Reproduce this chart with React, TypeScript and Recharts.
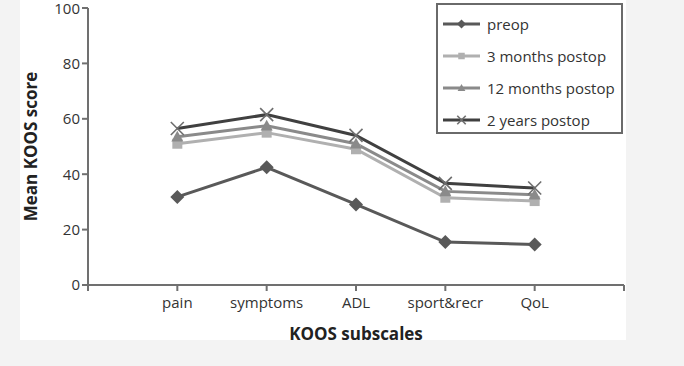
import React from "react";
import { LineChart, Line, XAxis, YAxis } from "recharts";

// KOOS subscales; blank slots at both ends keep the points off the axis edges
const categories = ["", "pain", "symptoms", "ADL", "sport&recr", "QoL", ""];
const preop = [null, 31.8, 42.5, 29.1, 15.5, 14.6, null];
const months3 = [null, 51, 55, 49, 31.5, 30.3, null];
const months12 = [null, 53.5, 57.5, 51, 33.8, 32.6, null];
const years2 = [null, 56.5, 61.5, 54, 36.7, 35, null];
const yTicks = [0, 20, 40, 60, 80, 100];

const data = categories.map((name, i) => ({
  name,
  preop: preop[i],
  m3: months3[i],
  m12: months12[i],
  y2: years2[i],
}));

const FONT = "'Open Sans', sans-serif";
const TEXT = "#333333";

type Shape = "diamond" | "square" | "triangle" | "cross";

const series: { key: string; name: string; color: string; markerColor: string; shape: Shape }[] = [
  { key: "preop", name: "preop", color: "#595959", markerColor: "#595959", shape: "diamond" },
  { key: "m3", name: "3 months postop", color: "#b0b0b0", markerColor: "#b0b0b0", shape: "square" },
  { key: "m12", name: "12 months postop", color: "#8a8a8a", markerColor: "#8a8a8a", shape: "triangle" },
  { key: "y2", name: "2 years postop", color: "#404040", markerColor: "#6e6e6e", shape: "cross" },
];

const marker = (shape: Shape, cx: number, cy: number, color: string, s = 1) => {
  if (shape === "diamond") {
    const r = 7 * s;
    return <polygon points={`${cx},${cy - r} ${cx + r},${cy} ${cx},${cy + r} ${cx - r},${cy}`} fill={color} />;
  }
  if (shape === "square") {
    const r = 5 * s;
    return <rect x={cx - r} y={cy - r} width={2 * r} height={2 * r} fill={color} />;
  }
  if (shape === "triangle") {
    const r = 6 * s;
    return <polygon points={`${cx},${cy - r} ${cx + r},${cy + r * 0.8} ${cx - r},${cy + r * 0.8}`} fill={color} />;
  }
  const r = 6.5 * s;
  return (
    <g stroke={color} strokeWidth={1.6}>
      <line x1={cx - r} y1={cy - r} x2={cx + r} y2={cy + r} />
      <line x1={cx - r} y1={cy + r} x2={cx + r} y2={cy - r} />
    </g>
  );
};

const makeDot = (shape: Shape, color: string) => (props: any) => {
  const { cx, cy, value, index } = props;
  if (value == null || cx == null || cy == null) return <g key={index} />;
  return <g key={index}>{marker(shape, cx, cy, color)}</g>;
};

const LegendBox = () => (
  <div
    style={{
      position: "absolute",
      left: 436,
      top: 3,
      border: "2px solid #6a6a6a",
      background: "#fff",
      width: 187,
      height: 131,
      boxSizing: "border-box",
      padding: "3px 0 0 5px",
      fontFamily: FONT,
      fontSize: 15,
      color: TEXT,
      whiteSpace: "nowrap",
    }}
  >
    {series.map((s) => (
      <div key={s.key} style={{ display: "flex", alignItems: "center", height: 32 }}>
        <svg width={38} height={16} style={{ marginRight: 6, flexShrink: 0 }}>
          <line x1={0} y1={8} x2={37} y2={8} stroke={s.color} strokeWidth={3} />
          {marker(s.shape, 18.5, 8, s.markerColor, 0.65)}
        </svg>
        <span>{s.name}</span>
      </div>
    ))}
  </div>
);

const App: React.FC = () => {
  return (
    <div style={{ position: "absolute", left: 0, top: 0, width: 684, height: 366, background: "#f3f3f3" }}>
      <div style={{ position: "absolute", left: 20, top: 0, width: 606, height: 340, background: "#fff" }} />
      <div style={{ position: "absolute", left: 0, top: 0 }}>
        <LineChart width={684} height={366} data={data} margin={{ top: 8, right: 60, left: 28, bottom: 22 }}>
          <XAxis
            dataKey="name"
            height={59}
            interval={0}
            axisLine={{ stroke: "#707070", strokeWidth: 2 }}
            tickLine={{ stroke: "#707070", strokeWidth: 2 }}
            tickSize={6}
            tickMargin={6}
            tick={{ fill: TEXT, fontSize: 15, fontFamily: FONT }}
            label={{
              value: "KOOS subscales",
              position: "insideBottom",
              offset: 4,
              fill: "#222",
              fontSize: 17,
              fontWeight: "bold",
              fontFamily: FONT,
            }}
          />
          <YAxis
            domain={[0, 100]}
            ticks={yTicks}
            width={60}
            axisLine={{ stroke: "#707070", strokeWidth: 2 }}
            tickLine={{ stroke: "#707070", strokeWidth: 2 }}
            tickSize={6}
            tick={{ fill: TEXT, fontSize: 15, fontFamily: FONT }}
            label={{
              content: (p: any) => {
                const vb = p.viewBox;
                const cx = vb.x - 28 + 30;
                const cy = vb.y + vb.height / 2;
                return (
                  <text
                    x={cx}
                    y={cy}
                    transform={`rotate(-90 ${cx} ${cy})`}
                    textAnchor="middle"
                    dominantBaseline="central"
                    fill="#222"
                    fontSize={17}
                    fontWeight="bold"
                    fontFamily={FONT}
                  >
                    Mean KOOS score
                  </text>
                );
              },
            }}
          />
          {series.map((s) => (
            <Line
              key={s.key}
              dataKey={s.key}
              name={s.name}
              stroke={s.color}
              strokeWidth={3}
              dot={makeDot(s.shape, s.markerColor)}
              activeDot={false}
              isAnimationActive={false}
            />
          ))}
        </LineChart>
      </div>
      <LegendBox />
    </div>
  );
};

export default App;
